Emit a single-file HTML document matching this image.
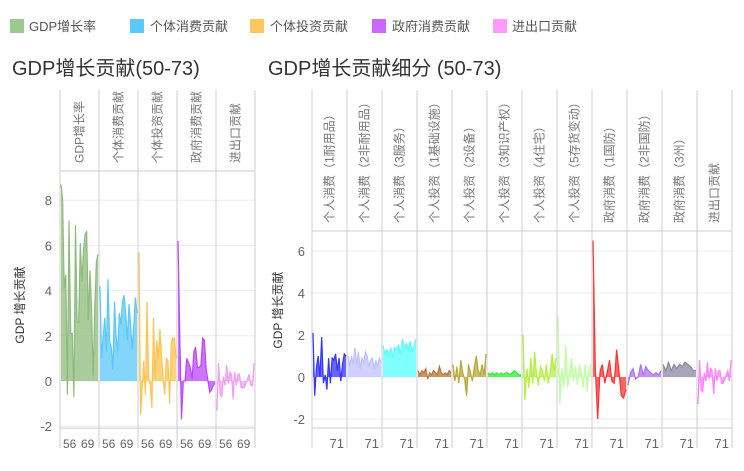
<!DOCTYPE html>
<html><head><meta charset="utf-8"><style>
body{margin:0;background:#fff;width:744px;height:466px;overflow:hidden;font-family:"Liberation Sans","Noto Sans CJK SC",sans-serif;}
</style></head><body>
<svg id="s" width="744" height="466" xmlns="http://www.w3.org/2000/svg" style="font-family:'Liberation Sans','Noto Sans CJK SC',sans-serif">
<g font-size="13" fill="#555">
<rect x="10" y="19" width="14" height="14" fill="#9cc98f"/><text x="29" y="31">GDP增长率</text>
<rect x="130" y="19" width="14" height="14" fill="#5ac8fa"/><text x="150" y="31">个体消费贡献</text>
<rect x="250" y="19" width="14" height="14" fill="#fdc75e"/><text x="270" y="31">个体投资贡献</text>
<rect x="372" y="19" width="14" height="14" fill="#cc66ff"/><text x="392" y="31">政府消费贡献</text>
<rect x="493" y="19" width="14" height="14" fill="#ff9cf7"/><text x="512" y="31">进出口贡献</text>
</g>
<text x="12" y="75" font-size="20" fill="#333">GDP增长贡献(50-73)</text>
<text x="268" y="75" font-size="20" fill="#333">GDP增长贡献细分 (50-73)</text>
<g id="g"></g>
</svg>
<script>
var NS="http://www.w3.org/2000/svg",G=document.getElementById("g");
function el(t,a,txt){var e=document.createElementNS(NS,t);for(var k in a)e.setAttribute(k,a[k]);if(txt!=null)e.textContent=txt;G.appendChild(e);return e;}
function chart(x0,cw,n,top,hb,bot,y0,ppu,ticks,labels,data,colors,xl,tx,ytx,yty){
  ticks.forEach(function(t){var y=y0-t*ppu;el("line",{x1:x0,x2:x0+cw*n,y1:y,y2:y,stroke:"#eee"});
    el("text",{x:tx,y:y+5,"font-size":13,fill:"#666","text-anchor":"end"},String(t));});
  el("text",{transform:"translate("+ytx+","+yty+") rotate(-90)","font-size":12,fill:"#333","text-anchor":"middle"},"GDP 增长贡献");
  for(var i=0;i<n;i++){
    var xa=x0+i*cw,d=data[i],m=d.length,pts=[];
    for(var j=0;j<m;j++){pts.push([xa+1+j*(cw-2)/(m-1),y0-d[j]*ppu]);}
    var p="M"+pts[0][0]+","+y0+pts.map(function(q){return"L"+q[0].toFixed(1)+","+q[1].toFixed(1)}).join("")+"L"+pts[m-1][0]+","+y0+"Z";
    el("path",{d:p,fill:colors[i],"fill-opacity":0.75,stroke:"none"});
    el("polyline",{points:pts.map(function(q){return q[0].toFixed(1)+","+q[1].toFixed(1)}).join(" "),fill:"none",stroke:colors[i],"stroke-width":1.2});
    el("text",{transform:"translate("+(xa+cw/2+4)+","+(hb-8)+") rotate(-90)","font-size":12,fill:"#777","text-anchor":"start"},labels[i]);
    xl(xa,cw);
  }
  for(var i=0;i<=n;i++){el("line",{x1:x0+i*cw,x2:x0+i*cw,y1:top,y2:bot+20,stroke:"#ccc"});}
  el("line",{x1:x0,x2:x0+cw*n,y1:hb,y2:hb,stroke:"#ccc"});
  el("line",{x1:x0,x2:x0+cw*n,y1:bot,y2:bot,stroke:"#ccc"});
}
var L=[[8.7,8.0,4.1,4.7,-0.6,7.1,2.1,2.1,-0.7,6.9,2.6,2.6,6.1,4.4,5.8,6.5,6.6,2.7,4.9,3.1,0.2,3.3,5.3,5.6],
[4.2,1.0,2.0,2.8,1.3,4.5,1.7,1.5,0.5,3.5,2.0,1.3,3.0,2.5,3.5,3.8,3.0,1.8,3.4,2.5,1.4,2.5,3.7,3.0],
[5.7,-1.5,-0.3,0.9,-0.6,3.5,0.1,-0.2,-1.2,2.8,0.1,1.8,1.0,2.3,1.2,0.1,-0.6,1.0,0.9,-1.0,1.7,1.9,1.9,1.0],
[6.2,2.0,-1.7,0,0,1.0,0.8,0.6,0.1,1.3,1.5,0.6,0.6,0.7,1.9,1.8,0.5,0,-0.5,-0.4,-0.2,-0.1],
[-1.3,0.8,-0.6,-0.7,0.2,-0.2,0.7,-0.1,0.4,0.3,-0.8,0.4,-0.2,0.3,0.3,-0.3,-0.3,-0.3,-0.1,0.1,0.3,-0.2,-0.2,0.8]];
chart(60,39,5,90,171,428,381,22.6,[-2,0,2,4,6,8],["GDP增长率","个体消费贡献","个体投资贡献","政府消费贡献","进出口贡献"],L,
["#8dbb7c","#5ac8fa","#fdc453","#bb44ff","#f59cf5"],
function(xa,cw){el("text",{x:xa+3,y:448,"font-size":12,fill:"#666"},"56");el("text",{x:xa+21,y:448,"font-size":12,fill:"#666"},"69");},52,24,305);
var R=[[2.1,-0.9,0.5,1.0,0,1.9,-0.3,0.1,-0.6,0.9,-0.3,0.9,0.8,1.1,0.3,0.9,-0.2,0.6,1.1,1.0],
[1.0,0.5,1.0,0.6,1.4,0.6,1.2,0.4,0.9,0.7,1.2,1.0,0.5,0.8,0.9,0.4,0.8,0.5,0.9,0.7],
[1.5,1.1,1.3,1.0,1.4,0.9,1.4,1.3,1.5,1.1,1.8,1.4,1.6,1.3,1.7,1.2,1.5,1.8],
[0.3,0.1,0.3,0.2,0.4,-0.1,0.2,0.1,0.3,0.2,0.1,0.5,0.2,0.1,0.2,0.1,0.3,0.2],
[0.6,-0.2,0.5,-0.3,0.8,0.2,-0.1,-0.9,0.6,0.2,-0.2,0.5,1.0,0.3,0.1,0.6,0.1,1.1],
[0.2,0.1,0.2,0.1,0.2,0.1,0.2,0.1,0.2,0.2,0.1,0.2,0.3,0.2,0.1,0.1],
[2.0,-1.1,0.4,-0.5,0.9,-0.3,1.2,0.1,-0.4,0.5,0.3,-0.2,0.6,-0.3,0.2,1.1,0.3,0.9],
[2.9,-1.3,0.4,-0.5,1.5,-0.5,0.2,0.9,-0.2,0.5,-0.4,0.6,0.2,-0.5,0.6,-0.7,0.5,0.6],
[6.5,0.3,-2.0,0.3,0.6,-0.3,0.2,0.8,-0.2,-0.3,1.3,0.3,-0.9,-1.0,-0.6],
[-0.4,0.2,0.4,-0.1,0,0.6,0.1,0.5,0.3,0.2,0.1,0.2,0.1,0.3],
[0.6,0.3,0.7,0.3,0.6,0.4,0.6,0.5,0.7,0.6,0.5,0.3,0.3],
[-1.3,0.8,-0.6,-0.7,0.2,-0.2,0.7,-0.1,0.4,0.3,-0.8,0.4,-0.2,0.3,0.3,-0.3,-0.3,-0.1,0.1,0.3,-0.2,0.8]];
chart(312,35,12,90,231,428,377,21,[-2,0,2,4,6],
["个人消费（1耐用品）","个人消费（2非耐用品）","个人消费（3服务）","个人投资（1基础设施）","个人投资（2设备）","个人投资（3知识产权）","个人投资（4住宅）","个人投资（5存货变动）","政府消费（1国防）","政府消费（2非国防）","政府消费（3州）","进出口贡献"],R,
["#3333ff","#c0c0ff","#55ffff","#b8763a","#b8a83a","#33ee33","#b0f040","#c0ffa0","#ff3333","#b070f0","#8888a0","#ff80ff"],
function(xa,cw){el("text",{x:xa+cw-3,y:448,"font-size":13,fill:"#666","text-anchor":"end"},"71");},305,282,310);
</script>
</body></html>
